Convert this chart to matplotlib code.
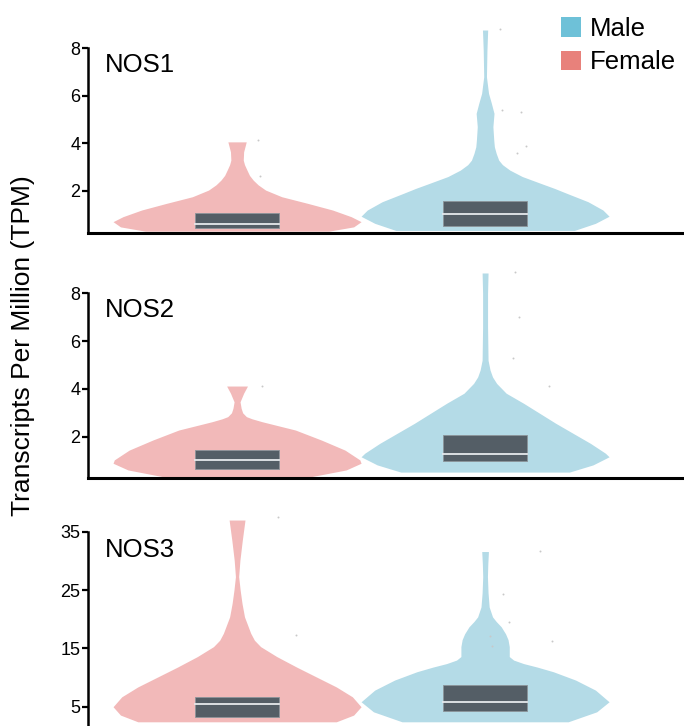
import matplotlib
matplotlib.use("Agg")
import matplotlib.pyplot as plt
from matplotlib.patches import Patch, Rectangle
import numpy as np

plt.rcParams['font.family'] = ['Liberation Sans', 'DejaVu Sans']

# gene panels
genes = ["NOS1", "NOS2", "NOS3"]
yticks = [[2, 4, 6, 8], [2, 4, 6, 8], [5, 15, 25, 35]]
ylims = [(0.21, 8.0), (0.26, 8.0), (1.7, 35.0)]
groups = ["Female", "Male"]

# violin outlines: TPM level and relative half-width (1 = widest)
f1_y = [0.3, 0.48, 0.7, 0.91, 1.19, 1.47, 1.75, 2.03, 2.25, 2.45, 2.65, 2.87, 3.1, 3.29, 3.64, 4.06]
f1_w = [0.74, 0.94, 1.0, 0.92, 0.77, 0.57, 0.36, 0.23, 0.17, 0.13, 0.1, 0.08, 0.06, 0.05, 0.053, 0.074]
m1_y = [0.33, 0.63, 0.93, 1.19, 1.54, 1.89, 2.1, 2.31, 2.6, 2.87, 3.1, 3.29, 3.57, 3.85, 4.13, 4.7,
        5.26, 5.7, 6.1, 6.8, 7.92, 8.77]
m1_w = [0.72, 0.89, 1.0, 0.95, 0.83, 0.66, 0.56, 0.45, 0.3, 0.2, 0.14, 0.11, 0.09, 0.075, 0.07, 0.063,
        0.072, 0.05, 0.028, 0.011, 0.015, 0.021]
f2_y = [0.33, 0.61, 0.89, 1.03, 1.44, 1.86, 2.28, 2.5, 2.63, 2.75, 2.84, 3.0, 3.19, 3.46, 3.82, 4.12]
f2_w = [0.6, 0.88, 1.0, 0.99, 0.87, 0.68, 0.47, 0.3, 0.2, 0.12, 0.075, 0.045, 0.033, 0.024, 0.053, 0.084]
m2_y = [0.52, 0.82, 1.16, 1.31, 1.72, 2.14, 2.56, 2.98, 3.4, 3.82, 4.23, 4.5, 4.79, 5.2, 6.6,
        8.0, 8.85]
m2_w = [0.68, 0.87, 1.0, 0.97, 0.85, 0.71, 0.57, 0.44, 0.31, 0.17, 0.093, 0.06, 0.04, 0.024, 0.02,
        0.02, 0.024]
f3_y = [2.42, 3.57, 5.0, 6.7, 8.4, 10.1, 11.8, 13.6, 15.3, 16.4, 17.6, 20.4, 22.7, 25.0, 27.3, 30.1,
        33.5, 37.0]
f3_w = [0.8, 0.94, 1.0, 0.93, 0.8, 0.64, 0.48, 0.32, 0.19, 0.14, 0.11, 0.06, 0.04, 0.025, 0.013, 0.023,
        0.042, 0.064]
m3_y = [2.42, 4.13, 5.85, 7.85, 9.57, 11.0, 11.8, 12.4, 13.0, 13.6, 15.3, 16.5, 17.5, 18.7, 19.6,
        20.4, 22.1, 24.5, 27.3, 29.5, 31.6]
m3_w = [0.67, 0.9, 1.0, 0.89, 0.73, 0.55, 0.42, 0.31, 0.23, 0.195, 0.195, 0.185, 0.165, 0.13, 0.09,
        0.06, 0.033, 0.024, 0.019, 0.022, 0.027]

# box statistics: q1, median, q3
f_q1 = [0.43, 0.63, 3.2]
f_med = [0.62, 1.04, 5.45]
f_q3 = [1.07, 1.46, 6.7]
m_q1 = [0.5, 1.0, 4.2]
m_med = [1.02, 1.29, 5.8]
m_q3 = [1.56, 2.08, 8.8]

# faint outlier dots: x offset from violin centre, value
f_dot_dx = [[0.085, 0.093], [0.1], [0.165, 0.238]]
f_dot_y = [[4.14, 2.62], [4.12], [37.5, 17.3]]
m_dot_dx = [[0.06, 0.07, 0.145, 0.165, 0.13],
            [0.12, 0.137, 0.113, 0.258],
            [0.222, 0.073, 0.097, 0.02, 0.028, 0.27]]
m_dot_y = [[8.8, 5.4, 5.3, 3.9, 3.6],
           [8.9, 7.0, 5.28, 4.12],
           [31.7, 24.4, 19.6, 17.1, 15.4, 16.3]]

violins = [[(f1_y, f1_w), (m1_y, m1_w)],
           [(f2_y, f2_w), (m2_y, m2_w)],
           [(f3_y, f3_w), (m3_y, m3_w)]]

fill_colors = {"Female": "#F2B9B9", "Male": "#B4DBE7"}
legend_colors = {"Female": "#E8817B", "Male": "#6EC1D8"}
box_color = "#545E66"

W, H = 684, 726
fig = plt.figure(figsize=(W / 100, H / 100), dpi=100)

# axes boxes in pixels (left, top, bottom)
panels = [(88, 48.3, 233.3), (88, 293.3, 478.3), (88, 531.7, 726)]
xpos = {"Female": 0.0, "Male": 1.0}
half = 0.5
box_half = 0.168

for i, gene in enumerate(genes):
    left, top, bottom = panels[i]
    ax = fig.add_axes([left / W, 1 - bottom / H, 1 - left / W, (bottom - top) / H])
    ax.set_xlim(-0.601, 1.802)
    ax.set_ylim(*ylims[i])

    for g, (vy, vw) in zip(groups, violins[i]):
        x0 = xpos[g]
        vw = np.array(vw) * half
        ax.fill_betweenx(vy, x0 - vw, x0 + vw, color=fill_colors[g], lw=0,
                         clip_on=False, zorder=2)

    stats = {"Female": (f_q1[i], f_med[i], f_q3[i]), "Male": (m_q1[i], m_med[i], m_q3[i])}
    for g in groups:
        q1, med, q3 = stats[g]
        x0 = xpos[g]
        ax.add_patch(Rectangle((x0 - box_half, q1), 2 * box_half, q3 - q1,
                               facecolor=box_color, edgecolor="#8C949A", lw=0.6, zorder=3))
        ax.plot([x0 - box_half, x0 + box_half], [med, med], color="#E6E9EC", lw=1.3, zorder=4)

    for dx, dy in zip(f_dot_dx[i], f_dot_y[i]):
        ax.plot(xpos["Female"] + dx, dy, 'o', ms=1.4, color="#C8C8C8", mec='none', clip_on=False)
    for dx, dy in zip(m_dot_dx[i], m_dot_y[i]):
        ax.plot(xpos["Male"] + dx, dy, 'o', ms=1.4, color="#C8C8C8", mec='none', clip_on=False)

    ax.set_yticks(yticks[i])
    ax.set_xticks([])
    ax.tick_params(axis='y', labelsize=13, length=4, width=1.6, pad=1.5, colors='black')
    for s in ["top", "right"]:
        ax.spines[s].set_visible(False)
    ax.spines["left"].set_linewidth(1.8)
    ax.spines["bottom"].set_linewidth(2.2)
    if i == 2:
        ax.spines["bottom"].set_visible(False)
    ax.set_facecolor("none")

    ax.text(0.029, 0.87, gene, transform=ax.transAxes, fontsize=18.5, va="baseline", ha="left")

fig.text(23 / W, 1 - 346 / H, "Transcripts Per Million (TPM)", rotation=90,
         fontsize=19, ha="center", va="center")

handles = [Patch(facecolor=legend_colors[g], edgecolor='none') for g in ["Male", "Female"]]
fig.legend(handles, ["Male", "Female"], loc="upper left", bbox_to_anchor=(553 / W, 1 - 9 / H),
           frameon=False, fontsize=18.5, handlelength=0.8, handleheight=0.8,
           handletextpad=0.35, labelspacing=0.38, borderaxespad=0, borderpad=0.3)

fig.savefig("out.png", dpi=100)
